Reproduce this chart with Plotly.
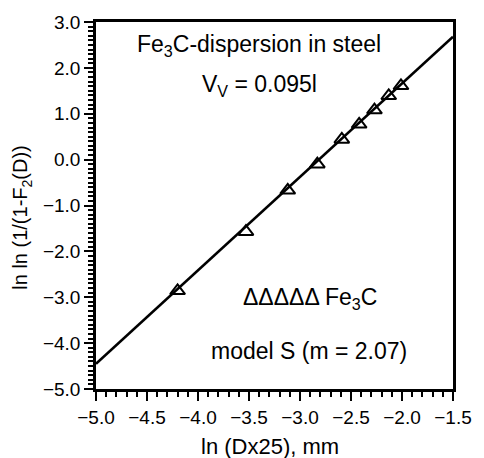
import plotly.graph_objects as go

# Data
pts_x = [-4.20, -3.53, -3.12, -2.83, -2.59, -2.42, -2.27, -2.13, -2.01]
pts_y = [-2.86, -1.57, -0.67, -0.10, 0.44, 0.77, 1.08, 1.39, 1.61]
fit_x = [-5.0, -1.5]
fit_y = [-4.45, 2.68]

x_range = [-5.0, -1.5]
y_range = [-5.0, 3.0]

FONT = "Liberation Sans, Arial, sans-serif"

fig = go.Figure()
fig.add_trace(go.Scatter(x=fit_x, y=fit_y, mode="lines",
                         line=dict(color="black", width=2.5), showlegend=False))
fig.add_trace(go.Scatter(x=pts_x, y=pts_y, mode="markers",
                         marker=dict(symbol="triangle-up-open", size=13, color="black",
                                     line=dict(width=2, color="black")),
                         showlegend=False))

axis_common = dict(showline=True, linecolor="black", linewidth=2.5, mirror=True,
                   ticks="outside", ticklen=9, tickwidth=2, tickcolor="black",
                   showgrid=False, zeroline=False, tickformat=".1f",
                   tickfont=dict(family=FONT, size=19, color="black"),
                   minor=dict(dtick=0.1, ticks="outside", ticklen=5, tickwidth=1.5,
                              tickcolor="black", showgrid=False))

fig.update_xaxes(range=x_range, tickmode="linear", tick0=-5.0, dtick=0.5, **axis_common)
fig.update_yaxes(range=y_range, tickmode="linear", tick0=-5.0, dtick=1.0, **axis_common)

ann_font = dict(family=FONT, size=23, color="black")
fig.add_annotation(x=-3.40, y=2.48, text="Fe<sub>3</sub>C-dispersion in steel",
                   showarrow=False, font=ann_font, xref="x", yref="y",
                   xanchor="center", yanchor="middle")
fig.add_annotation(x=-3.40, y=1.62, text="V<sub>V</sub> = 0.095l",
                   showarrow=False, font=ann_font, xref="x", yref="y",
                   xanchor="center", yanchor="middle")
fig.add_annotation(x=-2.90, y=-3.02, text="ΔΔΔΔΔ Fe<sub>3</sub>C",
                   showarrow=False, font=ann_font, xref="x", yref="y",
                   xanchor="center", yanchor="middle")
fig.add_annotation(x=-2.91, y=-4.17, text="model S (m = 2.07)",
                   showarrow=False, font=ann_font, xref="x", yref="y",
                   xanchor="center", yanchor="middle")

# axis titles
fig.add_annotation(x=0.488, y=-0.158, xref="paper", yref="paper",
                   xanchor="center", yanchor="middle",
                   text="ln (Dx25), mm", showarrow=False,
                   font=dict(family=FONT, size=22, color="black"))
fig.add_annotation(x=-0.207, y=0.467, xref="paper", yref="paper",
                   xanchor="center", yanchor="middle",
                   text="ln ln (1/(1-F<sub>2</sub>(D))", textangle=-90, showarrow=False,
                   font=dict(family=FONT, size=20, color="black"))

fig.update_layout(width=484, height=458,
                  margin=dict(l=96, r=21, t=21, b=69),
                  paper_bgcolor="white", plot_bgcolor="white",
                  font=dict(family=FONT, color="black"))

fig.write_html("out.html")
